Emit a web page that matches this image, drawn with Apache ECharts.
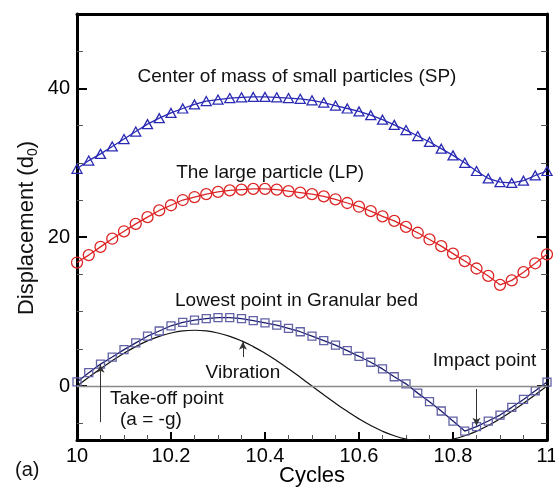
<!DOCTYPE html>
<html><head><meta charset="utf-8">
<script src="https://cdn.jsdelivr.net/npm/echarts@6/dist/echarts.min.js"></script>
<style>html,body{margin:0;padding:0;background:#fff}#c{width:555px;height:487px}</style>
</head><body><div id="c"></div>
<script>
const cycles = [10, 10.025, 10.05, 10.075, 10.1, 10.125, 10.15, 10.175, 10.2, 10.225, 10.25, 10.275, 10.3, 10.325, 10.35, 10.375, 10.4, 10.425, 10.45, 10.475, 10.5, 10.525, 10.55, 10.575, 10.6, 10.625, 10.65, 10.675, 10.7, 10.725, 10.75, 10.775, 10.8, 10.825, 10.85, 10.875, 10.9, 10.925, 10.95, 10.975, 11];
const smallParticles = [29.2, 30.3, 31.2, 32.2, 33.2, 34.2, 35.2, 36.0, 36.7, 37.3, 37.85, 38.3, 38.5, 38.7, 38.8, 38.85, 38.85, 38.8, 38.7, 38.6, 38.4, 38.1, 37.7, 37.3, 36.9, 36.4, 35.8, 35.1, 34.4, 33.6, 32.8, 31.9, 31.0, 30.0, 28.9, 27.9, 27.4, 27.3, 27.6, 28.3, 28.9];
const largeParticle = [16.6, 17.6, 18.7, 19.8, 20.8, 21.8, 22.7, 23.6, 24.3, 25.0, 25.4, 25.8, 26.1, 26.3, 26.4, 26.5, 26.5, 26.4, 26.2, 26.0, 25.8, 25.5, 25.1, 24.6, 24.1, 23.5, 22.8, 22.2, 21.4, 20.6, 19.7, 18.8, 17.8, 16.8, 15.8, 14.8, 13.6, 14.2, 15.3, 16.5, 17.7];
const lowestPoint = [0.55, 1.8, 2.95, 3.9, 4.9, 5.8, 6.7, 7.4, 8.1, 8.55, 8.85, 9.05, 9.2, 9.2, 9.05, 8.8, 8.5, 8.2, 7.75, 7.3, 6.7, 6.1, 5.5, 4.75, 4.0, 3.2, 2.3, 1.25, 0.3, -0.95, -2.1, -3.35, -4.7, -6.05, -5.45, -4.7, -3.9, -2.86, -1.8, -0.63, 0.54];
const vibration = [0, 1.17, 2.32, 3.40, 4.41, 5.30, 6.07, 6.68, 7.13, 7.41, 7.50, 7.41, 7.13, 6.68, 6.07, 5.30, 4.41, 3.40, 2.32, 1.17, 0, -1.17, -2.32, -3.40, -4.41, -5.30, -6.07, -6.68, -7.13, -7.41, -7.50, -7.41, -7.13, -6.68, -6.07, -5.30, -4.41, -3.40, -2.32, -1.17, 0];
const yTickLabels = [0, 20, 40];
const yMinorTicks = [-5, 5, 10, 15, 25, 30, 35, 45];
const xTickInterval = 0.2;

const FONT = '"Liberation Sans", Arial, Helvetica, sans-serif';
const pairs = (ys) => cycles.map((x, i) => [x, ys[i]]);
const chart = echarts.init(document.getElementById('c'), null, {renderer: 'canvas'});
const Y_MIN = -7.25, Y_MAX = 50;
const gridPos = {left: 77, right: 8, top: 14, bottom: 47, containLabel: false, outerBoundsMode: 'none'};
const blackLine = {show: true, onZero: false, lineStyle: {color: '#000', width: 3}};

function yAxisDef(grid, pos, major) {
  return {
    gridIndex: grid, type: 'value', position: pos, min: Y_MIN, max: Y_MAX,
    axisLine: major ? blackLine : {show: false},
    axisTick: major
      ? {show: true, inside: true, length: 10, lineStyle: {color: '#000', width: 2}, customValues: yTickLabels}
      : {show: true, inside: true, length: 6, lineStyle: {color: '#555', width: 1}, customValues: yMinorTicks},
    axisLabel: (major && pos === 'left')
      ? {show: true, customValues: yTickLabels, fontSize: 20, margin: 7, color: '#000', fontFamily: FONT}
      : {show: false, customValues: major ? yTickLabels : yMinorTicks},
    splitLine: {show: false}
  };
}

const option = {
  animation: false,
  textStyle: {fontFamily: FONT},
  grid: [Object.assign({}, gridPos), Object.assign({}, gridPos)],
  xAxis: [
    {gridIndex: 0, type: 'value', min: 10, max: 11, interval: xTickInterval, position: 'bottom',
     axisLine: blackLine,
     axisTick: {show: true, inside: true, length: 8, lineStyle: {color: '#000', width: 2}},
     minorTick: {show: true, splitNumber: 4, length: 5, lineStyle: {color: '#555', width: 1}},
     axisLabel: {fontSize: 20, margin: 6, color: '#000', fontFamily: FONT},
     splitLine: {show: false}, minorSplitLine: {show: false},
     name: 'Cycles', nameLocation: 'middle', nameGap: 25, nameMoveOverlap: false,
     nameTextStyle: {fontSize: 22, color: '#000', fontFamily: FONT}},
    {gridIndex: 1, type: 'value', min: 10, max: 11, position: 'top',
     axisLine: blackLine, axisTick: {show: false}, axisLabel: {show: false}, splitLine: {show: false}}
  ],
  yAxis: [yAxisDef(0, 'left', true), yAxisDef(0, 'right', true), yAxisDef(1, 'left', false), yAxisDef(1, 'right', false)],
  series: [
    {name: 'Vibration', type: 'line', xAxisIndex: 0, yAxisIndex: 0, data: pairs(vibration),
     smooth: true, showSymbol: false, symbol: 'none', clip: true,
     lineStyle: {color: '#111', width: 1.2}, z: 2, silent: true,
     markLine: {
       silent: true, animation: false, label: {show: false},
       data: [
         [{coord: [10, 0], symbol: 'none', lineStyle: {color: '#8a8a8a', width: 1.3, type: 'solid'}},
          {coord: [11, 0], symbol: 'none'}],
         [{coord: [10.05, -4.85], symbol: 'none', lineStyle: {color: '#333', width: 1, type: 'solid'}},
          {coord: [10.05, 2.85], symbol: 'arrow', symbolSize: [6, 8]}],
         [{coord: [10.353, 3.9], symbol: 'none', lineStyle: {color: '#333', width: 1, type: 'solid'}},
          {coord: [10.353, 5.95], symbol: 'arrow', symbolSize: [6, 8]}],
         [{coord: [10.85, -0.4], symbol: 'none', lineStyle: {color: '#333', width: 1, type: 'solid'}},
          {coord: [10.85, -5.35], symbol: 'arrow', symbolSize: [6, 8]}]
       ]
     }},
    {name: 'Lowest point', type: 'line', xAxisIndex: 0, yAxisIndex: 0, data: pairs(lowestPoint),
     symbol: 'rect', symbolSize: 8, showAllSymbol: true,
     lineStyle: {color: '#1c1c6e', width: 1.3},
     itemStyle: {color: 'rgba(255,255,255,0)', borderColor: '#6262a6', borderWidth: 1.3}, z: 3},
    {name: 'LP', type: 'line', xAxisIndex: 0, yAxisIndex: 0, data: pairs(largeParticle),
     symbol: 'circle', symbolSize: 11, showAllSymbol: true,
     lineStyle: {color: '#dd2424', width: 1.3},
     itemStyle: {color: 'rgba(255,255,255,0)', borderColor: '#dd2424', borderWidth: 1.3}, z: 3},
    {name: 'SP', type: 'line', xAxisIndex: 0, yAxisIndex: 0, data: pairs(smallParticles),
     symbol: 'triangle', symbolSize: [10, 9], showAllSymbol: true,
     lineStyle: {color: '#2a2ab4', width: 1.3},
     itemStyle: {color: 'rgba(255,255,255,0)', borderColor: '#2a2ab4', borderWidth: 1.3}, z: 3}
  ]
};
chart.setOption(option);

const px = (x, y) => chart.convertToPixel({xAxisIndex: 0, yAxisIndex: 0}, [x, y]);
function txt(x, y, text, align, size) {
  const p = px(x, y);
  return {type: 'text', x: p[0], y: p[1], silent: true,
    style: {text: text, fill: '#111', fontSize: size || 19, fontFamily: FONT, align: align || 'center', verticalAlign: 'middle'}};
}
chart.setOption({graphic: [
  txt(10.468, 41.5, 'Center of mass of small particles (SP)'),
  txt(10.411, 28.7, 'The large particle (LP)'),
  txt(10.467, 11.4, 'Lowest point in Granular bed'),
  txt(10.353, 1.8, 'Vibration'),
  txt(10.070, -1.75, 'Take-off point', 'left'),
  txt(10.0915, -4.55, '(a = -g)', 'left'),
  txt(10.757, 3.4, 'Impact point', 'left'),
  {type: 'text', x: 15, y: 470, silent: true,
   style: {text: '(a)', fill: '#111', fontSize: 20, fontFamily: FONT, align: 'left', verticalAlign: 'middle'}},
  {type: 'text', x: 27, y: 228, rotation: Math.PI / 2, silent: true,
   style: {text: '{a|Displacement (d}{b|0}{a|)}', fill: '#111', align: 'center', verticalAlign: 'middle',
     rich: {a: {fontSize: 22, fontFamily: FONT, fill: '#111', lineHeight: 26},
            b: {fontSize: 14, fontFamily: FONT, fill: '#111', lineHeight: 14, verticalAlign: 'bottom', padding: [10, 0, 0, 0]}}}}
]});
</script>
</body></html>
